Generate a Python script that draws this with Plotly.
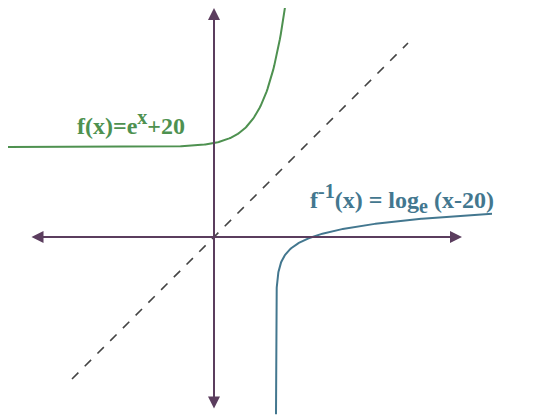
import numpy as np
import plotly.graph_objects as go

S = 20.0  # px per unit in drawing space
# f(x)=e^x+20 sketch model and its inverse sketch model
f_u = np.linspace(-10.7, 3.58, 300)
f_v = 4.5 + 0.2 * np.exp(f_u)
g_u = np.concatenate([3.1 + np.logspace(-6, 0, 200), np.linspace(4.11, 13.9, 300)])
g_v = 0.65 * np.log((g_u - 3.1) / 1.8)
mask = g_v > -8.9
g_u, g_v = g_u[mask], g_v[mask]
diag = [-7.1, 9.7]

purple = "#5b3d5e"
fig = go.Figure()
fig.add_trace(go.Scatter(x=diag, y=diag, mode="lines", line=dict(color="#444", width=1.6, dash="dash")))
fig.add_trace(go.Scatter(x=f_u, y=f_v, mode="lines", line=dict(color="#4e9150", width=2)))
fig.add_trace(go.Scatter(x=g_u, y=g_v, mode="lines", line=dict(color="#43778f", width=2)))

def arrow(x0, y0, x1, y1):
    fig.add_annotation(x=x1, y=y1, ax=x0, ay=y0, xref="x", yref="y", axref="x", ayref="y",
                       showarrow=True, arrowhead=2, arrowside="end+start", arrowsize=1.2,
                       arrowwidth=2, arrowcolor=purple, text="")

arrow(-9.2, 0, 12.4, 0)
arrow(0, -8.65, 0, 11.45)

fig.add_annotation(x=-6.95, y=5.75,
                   text="<b>f(x)=e<sup><span style='font-size:20px'>x</span></sup>+20</b>", showarrow=False,
                   xanchor="left", font=dict(family="Liberation Serif", size=24, color="#4e9150"))
fig.add_annotation(x=4.7, y=1.95,
                   text="<b>f<sup><span style='font-size:20px'>-1</span></sup>(x) = log<sub><span style='font-size:20px'>e</span></sub> (x-20)</b>",
                   showarrow=False,
                   xanchor="left", font=dict(family="Liberation Serif", size=24, color="#43778f"))

ox, oy = 206, 229
fig.update_layout(width=550, height=417, margin=dict(l=0, r=0, t=0, b=0), showlegend=False,
                  plot_bgcolor="white", paper_bgcolor="white",
                  xaxis=dict(range=[-ox / S, (550 - ox) / S], visible=False),
                  yaxis=dict(range=[(oy - 417) / S, oy / S], visible=False))
fig.write_html("out.html")
